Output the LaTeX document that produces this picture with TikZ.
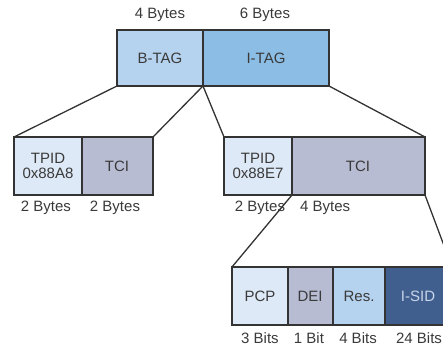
\documentclass[tikz,border=0pt]{standalone}
\usepackage{fontspec}
\setmainfont{Liberation Sans}
\definecolor{cBtag}{HTML}{B5D3EF}
\definecolor{cItag}{HTML}{8BBDE5}
\definecolor{cLight}{HTML}{DDE9F6}
\definecolor{cGrey}{HTML}{B7BCD2}
\definecolor{cDark}{HTML}{405F8E}
\definecolor{cLine}{HTML}{333333}
\definecolor{cText}{HTML}{3A3A3A}
\definecolor{cDarkText}{HTML}{C9D5E8}
\begin{document}
\begin{tikzpicture}[x=1pt,y=-1pt,
  field/.style={draw=cLine,line width=1.4pt,text=cText},
  lbl/.style={text=cText},
  conn/.style={draw=cLine,line width=1.3pt},
  every node/.style={font=\fontsize{15}{15}\selectfont,inner sep=1pt}]
\useasboundingbox (0,0) rectangle (443,347);
\clip (0,0) rectangle (443,347);
% top row
\path[field,fill=cBtag] (117,30) rectangle (203,86);
\path[field,fill=cItag] (203,30) rectangle (329,86);
\node[text=cText] (btag) at (160,58) {B-TAG};
\node[text=cText] (itag) at (266,58) {I-TAG};
\node[lbl] (b4) at (160,15) {4 Bytes};
\node[lbl] (b6) at (265,15) {6 Bytes};
\coordinate (tl) at (117,86);
\coordinate (tm) at (203,86);
\coordinate (tr) at (329,86);
% left row
\path[field,fill=cLight] (14,137) rectangle (82,195);
\path[field,fill=cGrey] (82,137) rectangle (153,195);
\node[text=cText,align=center] (tpid1) at (48,166) {TPID\\0x88A8};
\node[text=cText] (tci1) at (117,166) {TCI};
\node[lbl] (l2a) at (46,208) {2 Bytes};
\node[lbl] (l2b) at (115,208) {2 Bytes};
\coordinate (ltl) at (14,137);
\coordinate (ltr) at (153,137);
% right row
\path[field,fill=cLight] (224,137) rectangle (292,195);
\path[field,fill=cGrey] (292,137) rectangle (425,195);
\node[text=cText,align=center] (tpid2) at (258,166) {TPID\\0x88E7};
\node[text=cText] (tci2) at (358,166) {TCI};
\node[lbl] (r2a) at (260,208) {2 Bytes};
\node[lbl,anchor=west] (r4) at (299,208) {4 Bytes};
\coordinate (rtl) at (224,137);
\coordinate (rtr) at (425,137);
\coordinate (rbl) at (292,195);
\coordinate (rbr) at (425,195);
% bottom row
\path[field,fill=cLight] (232,267) rectangle (288,325);
\path[field,fill=cGrey] (288,267) rectangle (333,325);
\path[field,fill=cBtag] (333,267) rectangle (385,325);
\path[field,fill=cDark] (385,267) rectangle (452,325);
\node[text=cText] (pcp) at (260,296) {PCP};
\node[text=cText] (dei) at (310,296) {DEI};
\node[text=cText] (res) at (359,296) {Res.};
\node[text=cDarkText] (isid) at (418,296) {I-SID};
\node[lbl] (bb3) at (260,338) {3 Bits};
\node[lbl] (bb1) at (309,338) {1 Bit};
\node[lbl] (bb4) at (358,338) {4 Bits};
\node[lbl] (bb24) at (419,338) {24 Bits};
\coordinate (btl) at (232,267);
\coordinate (btr) at (452,267);
% connectors
\draw[conn] (tl) -- (ltl);
\draw[conn] (tm) -- (ltr);
\draw[conn] (tm) -- (rtl);
\draw[conn] (tr) -- (rtr);
\draw[conn] (rbl) -- (btl);
\draw[conn] (rbr) -- (btr);
\end{tikzpicture}
\end{document}
